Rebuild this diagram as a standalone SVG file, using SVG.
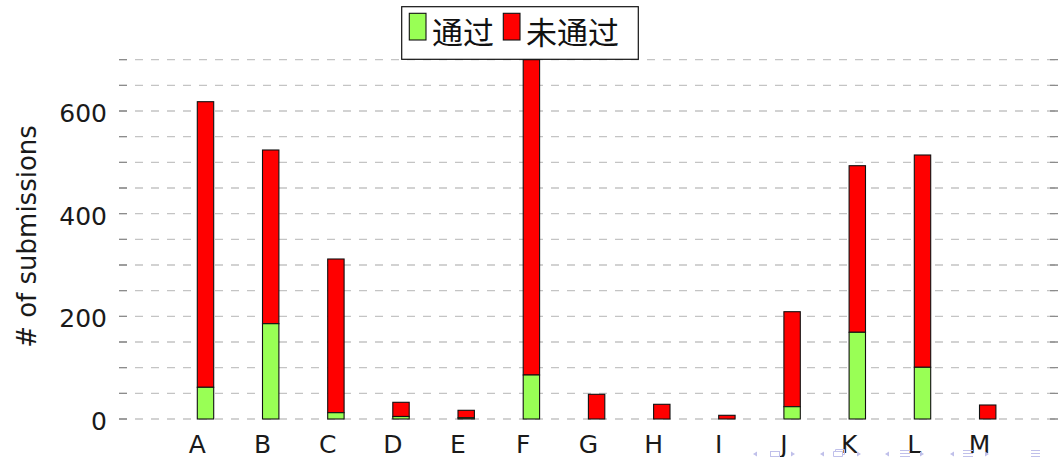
<svg xmlns="http://www.w3.org/2000/svg" width="1059" height="457" viewBox="0 0 1059 457">
<style>
.grid{stroke:#c4c4c4;stroke-width:1.3;stroke-dasharray:8 8;fill:none}
.tick{stroke:#8c8c8c;stroke-width:1.3}
.ok{fill:#99ff55;stroke:#111;stroke-width:1.1}
.no{fill:#ff0000;stroke:#111;stroke-width:1.1}
.lbl{font-family:"DejaVu Sans","Liberation Sans",sans-serif;font-size:25px;fill:#1a1a1a}
.ylab{text-anchor:end}
.xlab{text-anchor:middle}
.leg{font-family:"Noto Sans CJK SC","Noto Sans CJK JP",sans-serif;font-size:31px;fill:#111}
.nav{fill:#c0c0ea;stroke:none}
.navs{fill:none;stroke:#c0c0ea;stroke-width:1}
</style>
<rect width="1059" height="457" fill="#ffffff"/>
<g id="grid">
<line class="grid" x1="119" x2="1058" y1="419" y2="419"/>
<line class="grid" x1="119" x2="1058" y1="393.33" y2="393.33"/>
<line class="grid" x1="119" x2="1058" y1="367.67" y2="367.67"/>
<line class="grid" x1="119" x2="1058" y1="342" y2="342"/>
<line class="grid" x1="119" x2="1058" y1="316.33" y2="316.33"/>
<line class="grid" x1="119" x2="1058" y1="290.67" y2="290.67"/>
<line class="grid" x1="119" x2="1058" y1="265" y2="265"/>
<line class="grid" x1="119" x2="1058" y1="239.33" y2="239.33"/>
<line class="grid" x1="119" x2="1058" y1="213.67" y2="213.67"/>
<line class="grid" x1="119" x2="1058" y1="188" y2="188"/>
<line class="grid" x1="119" x2="1058" y1="162.33" y2="162.33"/>
<line class="grid" x1="119" x2="1058" y1="136.67" y2="136.67"/>
<line class="grid" x1="119" x2="1058" y1="111" y2="111"/>
<line class="grid" x1="119" x2="1058" y1="85.33" y2="85.33"/>
<line class="grid" x1="119" x2="1058" y1="59.67" y2="59.67"/>
</g>
<g id="ticks">
<path class="tick" d="M119 419h8M119 393.33h8M119 367.67h8M119 342h8M119 316.33h8M119 290.67h8M119 265h8M119 239.33h8M119 213.67h8M119 188h8M119 162.33h8M119 136.67h8M119 111h8M119 85.33h8M119 59.67h8"/>
<path class="tick" d="M1050 419h8M1050 393.33h8M1050 367.67h8M1050 342h8M1050 316.33h8M1050 290.67h8M1050 265h8M1050 239.33h8M1050 213.67h8M1050 188h8M1050 162.33h8M1050 136.67h8M1050 111h8M1050 85.33h8M1050 59.67h8"/>
</g>
<g id="yaxis" class="lbl">
<text class="ylab" x="107" y="429.5">0</text>
<text class="ylab" x="107" y="327">200</text>
<text class="ylab" x="107" y="224.5">400</text>
<text class="ylab" x="107" y="121.7">600</text>
<text class="xlab" transform="translate(36 236.5) rotate(-90)" font-size="26">
# of submissions</text>
</g>
<g id="connectors"></g>
<g id="bar-A"><rect class="no" x="197.3" y="101.7" width="16.4" height="285.6"/><rect class="ok" x="197.3" y="387.3" width="16.4" height="31.7"/></g>
<g id="bar-B"><rect class="no" x="262.5" y="150" width="16.4" height="173.7"/><rect class="ok" x="262.5" y="323.7" width="16.4" height="95.3"/></g>
<g id="bar-C"><rect class="no" x="327.7" y="259" width="16.4" height="153.7"/><rect class="ok" x="327.7" y="412.7" width="16.4" height="6.3"/></g>
<g id="bar-D"><rect class="no" x="392.8" y="402.3" width="16.4" height="14.2"/><rect class="ok" x="392.8" y="416.5" width="16.4" height="2.5"/></g>
<g id="bar-E"><rect class="no" x="458" y="410.3" width="16.4" height="7.5"/><rect class="ok" x="458" y="417.8" width="16.4" height="1.2"/></g>
<g id="bar-F"><rect class="no" x="523.2" y="59.7" width="16.4" height="315.3"/><rect class="ok" x="523.2" y="375" width="16.4" height="44"/></g>
<g id="bar-G"><rect class="no" x="588.4" y="394.3" width="16.4" height="24.7"/></g>
<g id="bar-H"><rect class="no" x="653.6" y="404.3" width="16.4" height="14.7"/></g>
<g id="bar-I"><rect class="no" x="718.7" y="415.3" width="16.4" height="3.7"/></g>
<g id="bar-J"><rect class="no" x="783.9" y="311.7" width="16.4" height="95"/><rect class="ok" x="783.9" y="406.7" width="16.4" height="12.3"/></g>
<g id="bar-K"><rect class="no" x="849.1" y="165.7" width="16.4" height="166.6"/><rect class="ok" x="849.1" y="332.3" width="16.4" height="86.7"/></g>
<g id="bar-L"><rect class="no" x="914.3" y="155" width="16.4" height="212.3"/><rect class="ok" x="914.3" y="367.3" width="16.4" height="51.7"/></g>
<g id="bar-M"><rect class="no" x="979.5" y="405" width="16.4" height="14"/></g>
<g id="xaxis" class="lbl xlab">
<text x="197.3" y="452.7">A</text>
<text x="262.5" y="452.7">B</text>
<text x="327.7" y="452.7">C</text>
<text x="392.8" y="452.7">D</text>
<text x="458" y="452.7">E</text>
<text x="523.2" y="452.7">F</text>
<text x="588.4" y="452.7">G</text>
<text x="653.6" y="452.7">H</text>
<text x="718.7" y="452.7">I</text>
<text x="783.9" y="452.7">J</text>
<text x="849.1" y="452.7">K</text>
<text x="914.3" y="452.7">L</text>
<text x="979.5" y="452.7">M</text>
</g>
<g id="legend">
<rect x="401.7" y="6.7" width="236.6" height="52.6" fill="#ffffff" stroke="#111" stroke-width="1.2"/>
<rect class="ok" x="409.3" y="13.3" width="16.7" height="26.7"/>
<text class="leg" x="432" y="44">通过</text>
<rect class="no" x="503.3" y="13.3" width="16.7" height="26.7"/>
<text class="leg" x="526" y="44">未通过</text>
</g>
<g id="navigation">
<path class="nav" d="M753 454l4-2.5v5z"/>
<rect class="navs" x="770.5" y="451.5" width="9" height="5"/>
<path class="nav" d="M795 454l-4-2.5v5z"/>
<path class="nav" d="M820 454l4-2.5v5z"/>
<path class="navs" d="M833.5 456.5v-5h9v5zM835.5 451.5v-2h9v5h-2"/>
<path class="nav" d="M861 454l-4-2.5v5z"/>
<path class="nav" d="M885 454l4-2.5v5z"/>
<path class="navs" d="M900 450.5h10M900 453.5h10M900 456.5h10"/>
<path class="nav" d="M924 454l-4-2.5v5z"/>
<path class="nav" d="M950 454l4-2.5v5z"/>
<path class="navs" d="M963 450.5h10M963 453.5h10M963 456.5h10"/>
<path class="nav" d="M989 454l-4-2.5v5z"/>
<path class="navs" d="M1031 450.5h9M1031 453.5h9M1031 456.5h9"/>
</g>
</svg>
